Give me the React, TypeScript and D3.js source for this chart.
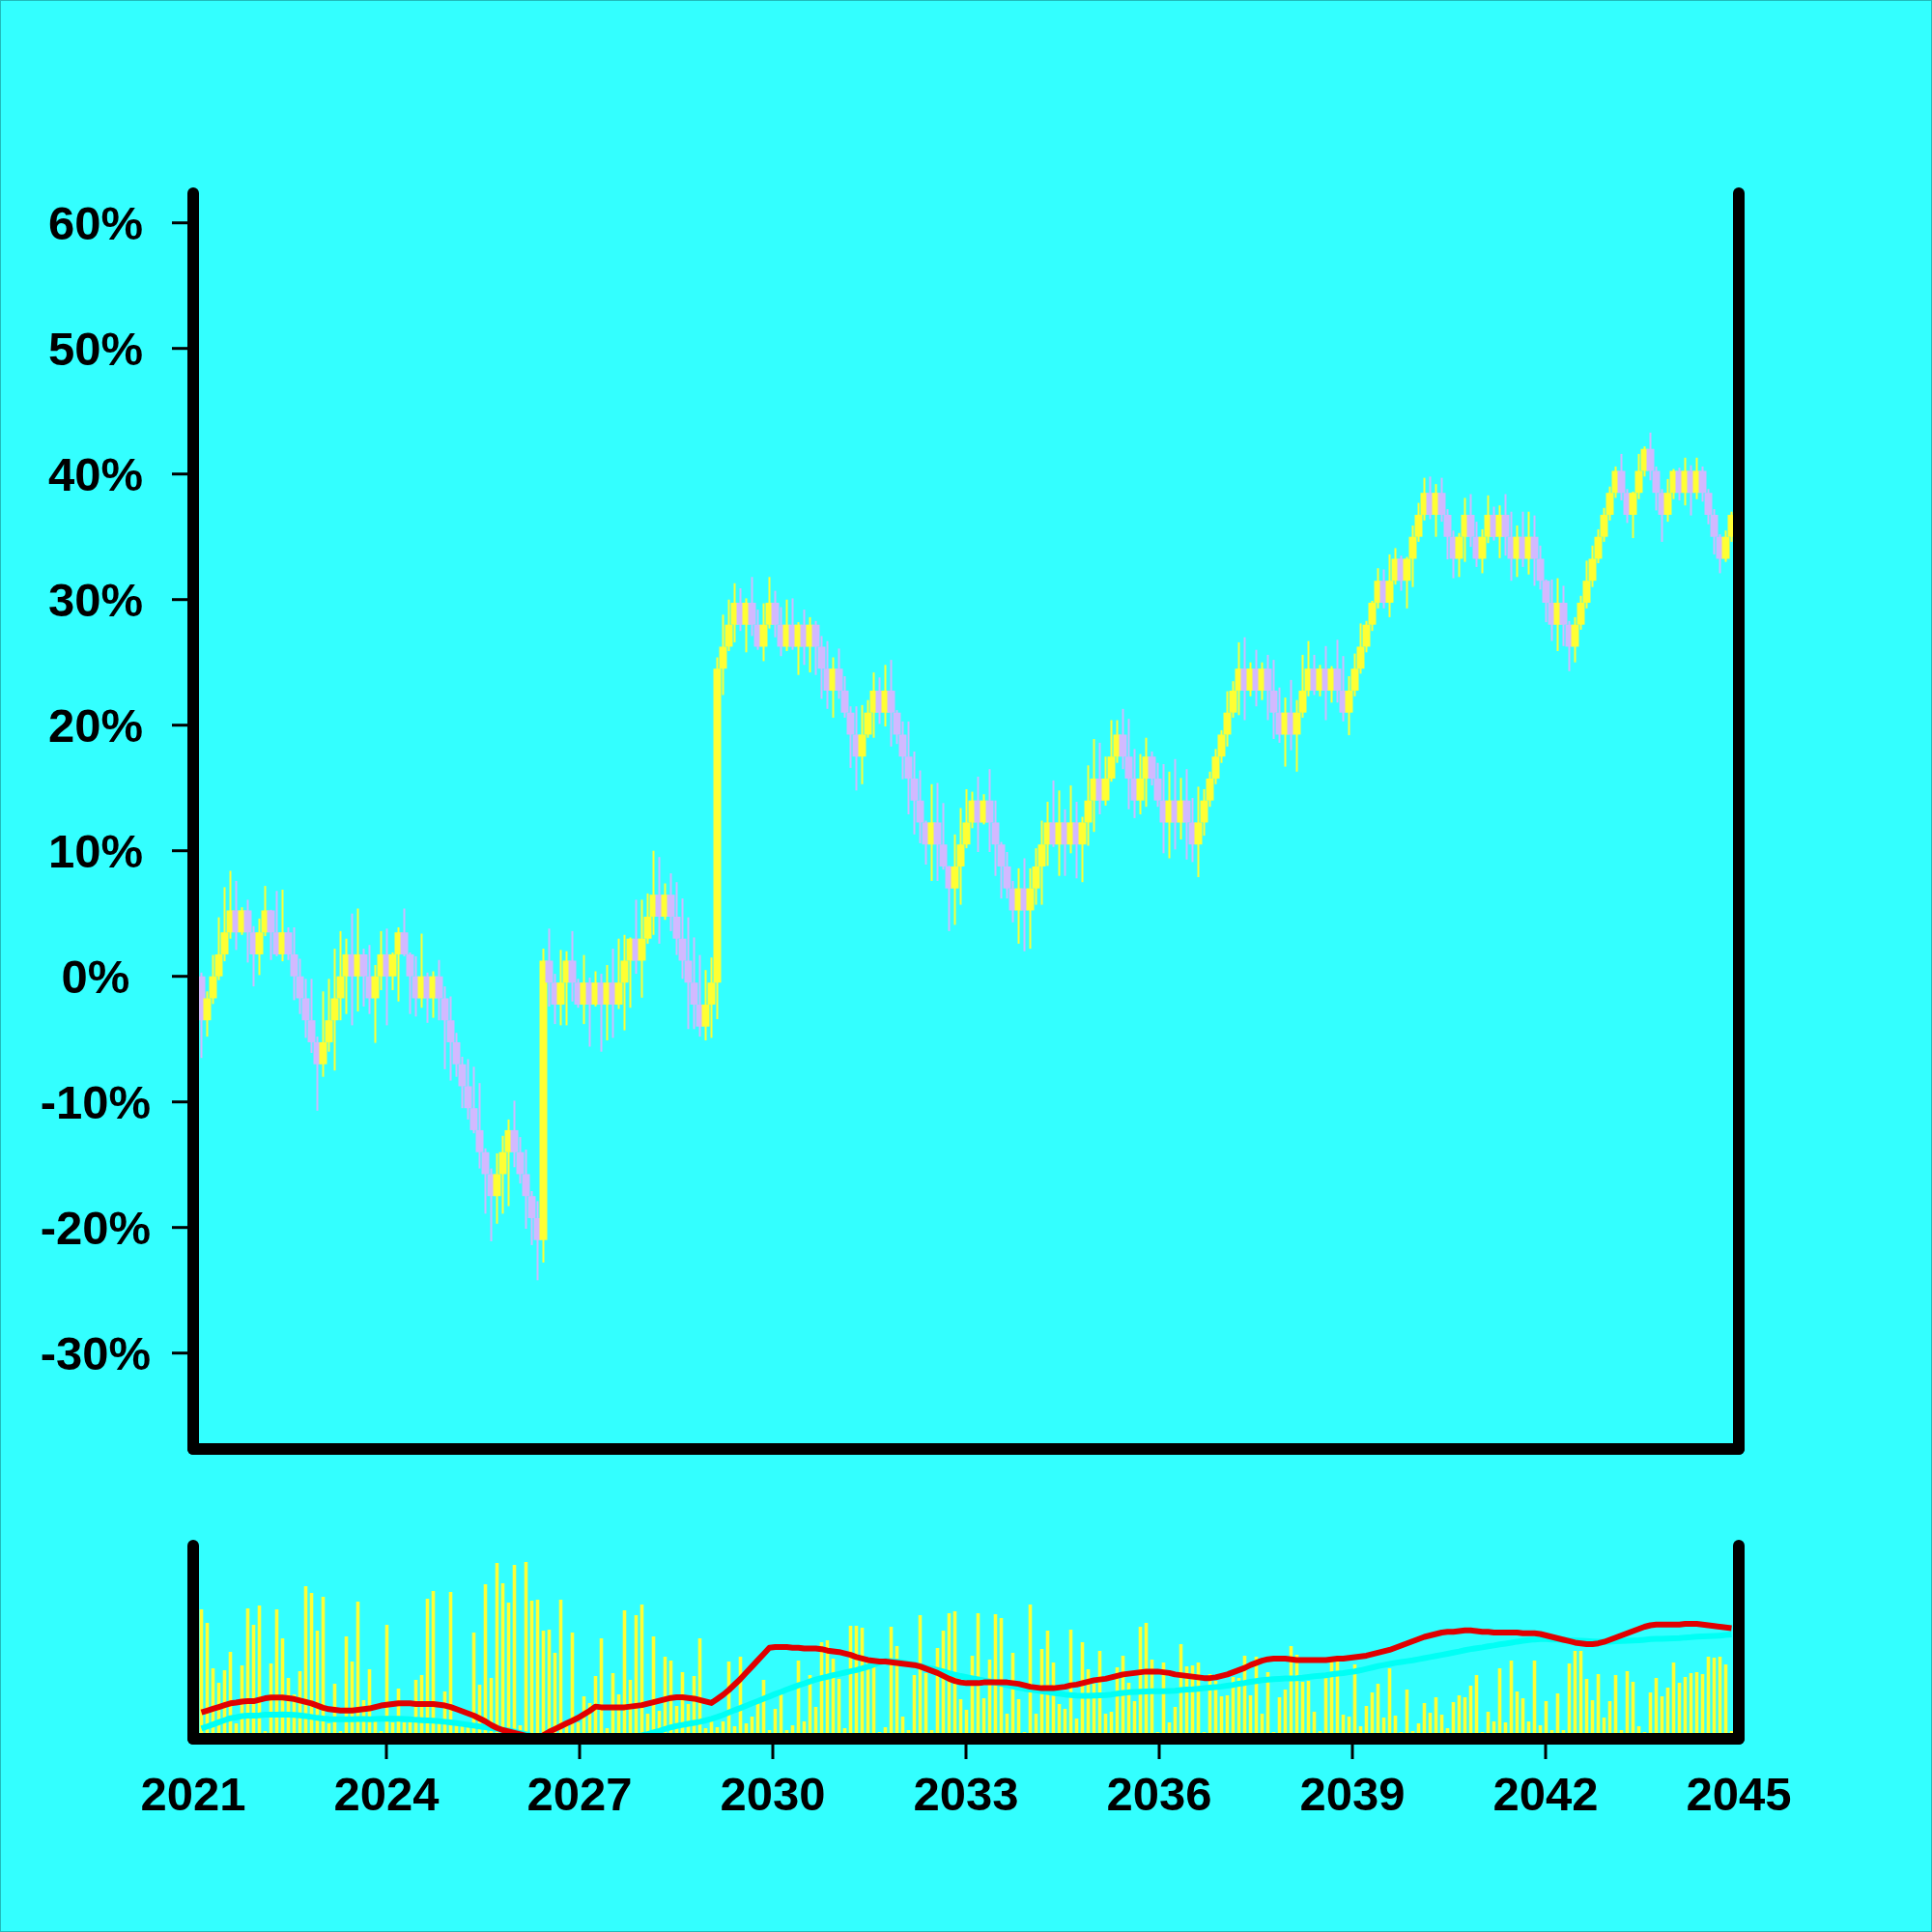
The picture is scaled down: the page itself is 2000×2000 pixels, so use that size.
import React from 'react';
import * as d3 from 'd3';

// ---- Data (percent change) ----
const CLOSE: number[] = [
  -3.5, -1.75, 0, 1.75, 3.5, 5.25, 3.5, 5.25, 3.5, 1.75,
  3.5, 5.25, 3.5, 1.75, 3.5, 1.75, 0, -1.75, -3.5, -5.25,
  -7, -5.25, -3.5, -1.75, 0, 1.75, 0, 1.75, 0, -1.75,
  0, 1.75, 0, 1.75, 3.5, 1.75, 0, -1.75, 0, -1.75,
  0, -1.75, -3.5, -5.25, -7, -8.75, -10.5, -12.25, -14, -15.75,
  -17.5, -15.75, -14, -12.25, -14, -15.75, -17.5, -19.25, -21, 1.25,
  -0.5, -2.25, -0.5, 1.25, -0.5, -2.25, -0.5, -2.25, -0.5, -2.25,
  -0.5, -2.25, -0.5, 1.25, 3, 1.25, 3, 4.75, 6.5, 4.75,
  6.5, 4.75, 3, 1.25, -0.5, -2.25, -4, -2.25, -0.5, 24.5,
  26.25, 28, 29.75, 28, 29.75, 28, 26.25, 28, 29.75, 28,
  26.25, 28, 26.25, 28, 26.25, 28, 26.25, 24.5, 22.75, 24.5,
  22.75, 21, 19.25, 17.5, 19.25, 21, 22.75, 21, 22.75, 21,
  19.25, 17.5, 15.75, 14, 12.25, 10.5, 12.25, 10.5, 8.75, 7,
  8.75, 10.5, 12.25, 14, 12.25, 14, 12.25, 10.5, 8.75, 7,
  5.25, 7, 5.25, 7, 8.75, 10.5, 12.25, 10.5, 12.25, 10.5,
  12.25, 10.5, 12.25, 14, 15.75, 14, 15.75, 17.5, 19.25, 17.5,
  15.75, 14, 15.75, 17.5, 15.75, 14, 12.25, 14, 12.25, 14,
  12.25, 10.5, 12.25, 14, 15.75, 17.5, 19.25, 21, 22.75, 24.5,
  22.75, 24.5, 22.75, 24.5, 22.75, 21, 19.25, 21, 19.25, 21,
  22.75, 24.5, 22.75, 24.5, 22.75, 24.5, 22.75, 21, 22.75, 24.5,
  26.25, 28, 29.75, 31.5, 29.75, 31.5, 33.25, 31.5, 33.25, 35,
  36.75, 38.5, 36.75, 38.5, 36.75, 35, 33.25, 35, 36.75, 35,
  33.25, 35, 36.75, 35, 36.75, 35, 33.25, 35, 33.25, 35,
  33.25, 31.5, 29.75, 28, 29.75, 28, 26.25, 28, 29.75, 31.5,
  33.25, 35, 36.75, 38.5, 40.25, 38.5, 36.75, 38.5, 40.25, 42,
  40.25, 38.5, 36.75, 38.5, 40.25, 38.5, 40.25, 38.5, 40.25, 38.5,
  36.75, 35, 33.25, 35, 36.75,
];

const HIGH: number[] = [
  0.3, -1.2, 1.7, 4.7, 7.1, 8.4, 7.6, 5.5, 6.1, 4.0,
  4.6, 7.2, 5.3, 6.8, 6.9, 3.9, 3.9, 1.4, -0.2, -0.2,
  -4.8, -1.2, -0.2, 2.2, 3.6, 3.0, 5.0, 5.4, 2.2, 2.5,
  0.9, 3.6, 3.8, 1.9, 3.9, 5.4, 1.9, 1.6, 3.4, 0.3,
  0.4, 1.3, -0.8, -1.6, -4.5, -6.4, -6.6, -7.2, -8.5, -13.7,
  -15.3, -14.1, -12.7, -11.4, -9.9, -12.8, -13.8, -17.1, -17.9, 2.2,
  3.8, 0.2, 2.1, 2.0, 3.6, -0.2, 1.7, -0.1, 0.4, 0.2,
  0.9, 2.2, 3.0, 3.3, 3.1, 6.1, 6.1, 6.6, 10.0, 9.5,
  7.4, 8.2, 7.5, 6.2, 4.7, 3.1, 1.7, 0.5, 1.5, 25.4,
  28.8, 30.0, 31.3, 30.9, 30.1, 31.8, 29.2, 29.7, 31.8, 30.7,
  29.4, 30.0, 30.1, 28.2, 29.2, 28.6, 28.3, 27.1, 26.7, 25.4,
  26.1, 23.9, 21.5, 21.5, 21.6, 22.0, 24.2, 23.8, 24.8, 25.2,
  21.2, 20.3, 20.3, 17.9, 16.4, 12.4, 15.3, 15.4, 13.8, 8.8,
  11.3, 13.4, 14.9, 14.7, 15.9, 14.5, 16.5, 14.0, 10.7, 9.9,
  7.6, 8.6, 9.4, 8.6, 10.2, 12.4, 13.9, 15.6, 14.8, 13.3,
  15.2, 13.9, 12.7, 16.8, 18.9, 18.6, 17.5, 20.4, 20.4, 21.3,
  20.5, 18.1, 17.7, 19.0, 17.9, 17.0, 16.9, 16.3, 17.3, 15.8,
  16.5, 14.2, 15.1, 14.9, 16.3, 18.1, 19.6, 22.7, 23.5, 26.6,
  27.0, 25.0, 26.0, 25.0, 25.6, 25.2, 23.0, 22.2, 23.6, 22.0,
  25.6, 26.7, 25.6, 24.8, 26.3, 24.7, 26.8, 25.5, 23.9, 25.7,
  28.1, 28.3, 29.9, 32.5, 32.4, 33.6, 34.1, 33.5, 33.4, 35.9,
  37.7, 39.7, 39.8, 39.2, 39.7, 37.2, 35.5, 35.3, 38.1, 38.4,
  36.2, 35.6, 38.3, 37.4, 37.5, 38.4, 37.0, 35.9, 37.0, 37.0,
  36.7, 34.3, 31.6, 31.6, 31.7, 31.1, 28.3, 28.6, 30.3, 33.1,
  34.3, 35.6, 37.3, 39.0, 40.6, 41.6, 38.8, 38.6, 41.6, 42.2,
  43.3, 40.6, 38.8, 39.6, 40.4, 40.5, 41.3, 40.7, 41.3, 40.6,
  38.8, 37.2, 35.2, 35.5, 37.0,
];

const LOW: number[] = [
  -6.5, -4.8, -2.2, -0.3, 1.2, 3.0, 2.1, 3.3, 1.1, -0.8,
  0.1, 3.2, 1.3, 1.6, 1.2, 1.3, -1.9, -3.0, -4.9, -6.1,
  -10.7, -8.0, -6.0, -7.5, -3.5, -3.0, -3.9, -2.8, -2.4, -3.0,
  -5.3, -1.1, -3.9, -1.1, -2.0, 1.6, -3.0, -3.2, -2.5, -3.7,
  -3.3, -3.5, -7.4, -8.3, -8.0, -10.5, -11.4, -12.5, -15.3, -18.9,
  -21.1, -19.7, -18.9, -18.3, -15.2, -16.5, -20.1, -21.4, -24.2, -22.8,
  -2.4, -3.8, -3.9, -3.9, -2.0, -2.5, -3.8, -5.6, -2.4, -6.0,
  -5.1, -4.9, -2.6, -4.3, -2.5, 0.2, -1.7, 2.6, 3.3, 2.6,
  4.5, 3.6, 1.7, -0.2, -4.2, -4.2, -4.8, -5.1, -4.9, -3.4,
  22.4, 25.9, 26.6, 27.5, 25.8, 27.1, 26.0, 25.1, 27.7, 27.0,
  25.5, 25.9, 26.0, 24.0, 24.8, 24.2, 24.0, 22.1, 21.3, 20.6,
  22.1, 20.6, 16.6, 14.8, 15.3, 19.0, 19.0, 20.1, 19.9, 18.3,
  18.5, 15.7, 12.9, 11.3, 10.6, 8.9, 7.6, 7.6, 8.5, 3.6,
  4.1, 5.7, 10.2, 11.8, 9.9, 12.1, 9.9, 8.0, 6.2, 6.2,
  4.3, 2.6, 2.0, 2.2, 5.7, 5.7, 8.8, 10.3, 8.0, 8.0,
  9.8, 7.8, 7.5, 10.4, 11.5, 12.9, 13.6, 15.5, 17.0, 16.5,
  13.3, 12.6, 12.9, 13.5, 15.2, 13.5, 9.8, 9.4, 10.1, 10.9,
  9.3, 9.1, 7.9, 11.2, 13.5, 15.3, 17.0, 18.3, 20.6, 20.8,
  20.4, 22.3, 21.5, 22.0, 20.4, 18.9, 18.6, 16.7, 18.0, 16.3,
  20.6, 22.3, 22.4, 22.3, 20.4, 21.8, 21.8, 20.3, 19.2, 22.3,
  24.1, 25.8, 27.5, 29.3, 29.3, 28.6, 31.2, 30.7, 29.3, 31.0,
  34.6, 36.3, 36.4, 35.0, 36.2, 33.2, 31.7, 31.8, 33.0, 34.2,
  32.6, 32.1, 34.5, 34.7, 33.3, 33.5, 31.5, 31.8, 32.6, 32.0,
  31.1, 30.8, 28.2, 26.7, 25.9, 26.3, 24.3, 25.0, 27.6, 29.3,
  31.0, 32.9, 34.6, 36.3, 38.1, 37.9, 36.1, 34.9, 38.0, 39.8,
  39.5, 37.1, 34.6, 36.2, 38.0, 37.9, 37.5, 36.7, 38.0, 37.8,
  36.0, 33.6, 32.1, 33.0, 34.6,
];

const VOLUME: number[] = [
  128, 114, 67, 52, 65, 84, 10, 70, 129, 112,
  132, 2, 72, 128, 98, 57, 40, 64, 152, 145,
  106, 141, 10, 51, 2, 100, 74, 136, 34, 66,
  16, 2, 112, 11, 46, 11, 11, 55, 60, 139,
  147, 10, 43, 146, 9, 8, 8, 104, 50, 154,
  57, 176, 155, 135, 174, 8, 177, 137, 138, 106,
  107, 83, 138, 8, 104, 11, 38, 31, 59, 98,
  5, 62, 40, 127, 55, 122, 133, 20, 100, 23,
  79, 75, 28, 63, 30, 59, 98, 5, 13, 6,
  12, 74, 7, 79, 10, 17, 31, 55, 3, 25,
  40, 3, 8, 75, 12, 60, 27, 94, 96, 77,
  56, 5, 111, 111, 109, 74, 70, 1, 6, 110,
  90, 17, 3, 60, 122, 62, 3, 88, 106, 124,
  126, 35, 24, 80, 124, 36, 76, 123, 119, 20,
  83, 35, 1, 133, 20, 87, 106, 73, 30, 25,
  107, 15, 94, 66, 51, 85, 20, 22, 68, 80,
  52, 33, 110, 114, 76, 1, 73, 11, 27, 92,
  69, 70, 73, 1, 61, 54, 38, 39, 58, 57,
  80, 39, 79, 20, 63, 1, 37, 45, 90, 81,
  53, 54, 22, 2, 57, 76, 74, 19, 17, 71,
  7, 28, 42, 51, 16, 67, 18, 1, 45, 2,
  10, 31, 21, 37, 19, 5, 32, 39, 37, 49,
  60, 1, 22, 12, 67, 11, 75, 43, 36, 12,
  75, 8, 33, 3, 41, 3, 72, 85, 85, 56,
  34, 61, 16, 33, 60, 3, 64, 53, 7, 1,
  42, 57, 38, 47, 73, 52, 58, 62, 63, 61,
  79, 78, 79, 71, 2,
];

const FIRST_T = 2021.1275; // decimal year of first candle
const STEP_T = 0.09; // years between candles
const Y_TICKS = [-30, -20, -10, 0, 10, 20, 30, 40, 50, 60];
const X_TICKS = [2021, 2024, 2027, 2030, 2033, 2036, 2039, 2042, 2045];
const X_TICK_MARKS = [2024, 2027, 2030, 2033, 2036, 2039, 2042];

const BG = '#33ffff';
const UP = '#ffff33';
const DOWN = '#d2b9ff';
const RED = '#e00000';
const CYAN = '#00fff5';
const FONT = '"Liberation Sans", Arial, Helvetica, sans-serif';

function sma(values: number[], n: number): number[] {
  return values.map((_, i) => d3.mean(values.slice(Math.max(0, i - n + 1), i + 1)) as number);
}

export default function App() {
  const W = 2000;
  const H = 2000;
  const L = 200, R = 1800;
  const mainTop = 200, mainBottom = 1500;
  const volTop = 1600, volBottom = 1800;

  const x = d3.scaleLinear().domain([2021, 2045]).range([L, R]);
  const y = d3.scaleLinear().domain([-30, 60]).range([1400.7, 230.7]);
  const yVol = d3.scaleLinear().domain([0, 177]).range([1794, 1617]);

  const data = CLOSE.map((c, i) => ({
    t: FIRST_T + i * STEP_T,
    open: i === 0 ? 0 : CLOSE[i - 1],
    close: c,
    high: HIGH[i],
    low: LOW[i],
    vol: VOLUME[i],
  }));

  const ma10 = sma(CLOSE, 10);
  const ma30 = sma(CLOSE, 30);
  const yMa10 = d3.scaleLinear().domain(d3.extent(ma10) as [number, number]).range([1800, 1681]);
  const yMa30 = d3.scaleLinear().domain(d3.extent(ma30) as [number, number]).range([1800, 1692]);

  const line10 = d3.line<number>().x((_, i) => x(data[i].t)).y((v) => yMa10(v));
  const line30 = d3.line<number>().x((_, i) => x(data[i].t)).y((v) => yMa30(v));

  const bodyW = 8;
  const wickW = 2;
  const volW = 3.6;

  return (
    <svg width={W} height={H} style={{ position: 'absolute', left: 0, top: 0, display: 'block' }}>
      <defs>
        <clipPath id="volclip">
          <rect x={L} y={volTop - 10} width={R - L} height={volBottom - volTop + 10} />
        </clipPath>
      </defs>
      <rect x={0} y={0} width={W} height={H} fill={BG} stroke="#22bbbb" strokeWidth={2} />

      {/* candles */}
      <g>
        {data.map((d, i) => {
          const up = d.close >= d.open;
          const col = up ? UP : DOWN;
          const cx = x(d.t);
          const yTop = y(Math.max(d.open, d.close));
          const yBot = y(Math.min(d.open, d.close));
          return (
            <g key={i}>
              <line x1={cx} x2={cx} y1={y(d.high)} y2={y(d.low)} stroke={col} strokeWidth={wickW} />
              <rect x={cx - bodyW / 2} y={yTop} width={bodyW} height={Math.max(1, yBot - yTop)} fill={col} />
            </g>
          );
        })}
      </g>

      {/* volume */}
      <g clipPath="url(#volclip)">
        {data.map((d, i) => (
          <rect key={i} x={x(d.t) - volW / 2} y={yVol(d.vol)} width={volW} height={volBottom - yVol(d.vol)} fill={UP} />
        ))}
        <path d={line30(ma30) || ''} fill="none" stroke={CYAN} strokeWidth={6} strokeLinejoin="round" />
        <path d={line10(ma10) || ''} fill="none" stroke={RED} strokeWidth={6} strokeLinejoin="round" />
      </g>

      {/* x tick marks */}
      <g>
        {X_TICK_MARKS.map((t) => (
          <line key={t} x1={x(t)} x2={x(t)} y1={volBottom} y2={1821} stroke="#000" strokeWidth={3} />
        ))}
      </g>

      {/* axes */}
      <g stroke="#000" strokeLinecap="round" fill="none">
        <line x1={L} x2={L} y1={mainTop} y2={mainBottom} strokeWidth={12} />
        <line x1={R} x2={R} y1={mainTop} y2={mainBottom} strokeWidth={12} />
        <line x1={L} x2={R} y1={mainBottom} y2={mainBottom} strokeWidth={12} />
        <line x1={L} x2={L} y1={volTop} y2={volBottom} strokeWidth={12} />
        <line x1={R} x2={R} y1={volTop} y2={volBottom} strokeWidth={12} />
        <line x1={L} x2={R} y1={volBottom} y2={volBottom} strokeWidth={12} />
      </g>

      {/* y ticks */}
      <g>
        {Y_TICKS.map((v) => (
          <g key={v}>
            <line x1={178} x2={L} y1={y(v)} y2={y(v)} stroke="#000" strokeWidth={3} />
            <text x={99} y={y(v)} textAnchor="middle" dominantBaseline="central" fontFamily={FONT} fontWeight="bold" fontSize={49} fill="#000">
              {`${v}%`}
            </text>
          </g>
        ))}
      </g>

      {/* x labels */}
      <g>
        {X_TICKS.map((t) => (
          <text key={t} x={x(t)} y={1857} textAnchor="middle" dominantBaseline="central" fontFamily={FONT} fontWeight="bold" fontSize={49} fill="#000">
            {String(t)}
          </text>
        ))}
      </g>
    </svg>
  );
}
